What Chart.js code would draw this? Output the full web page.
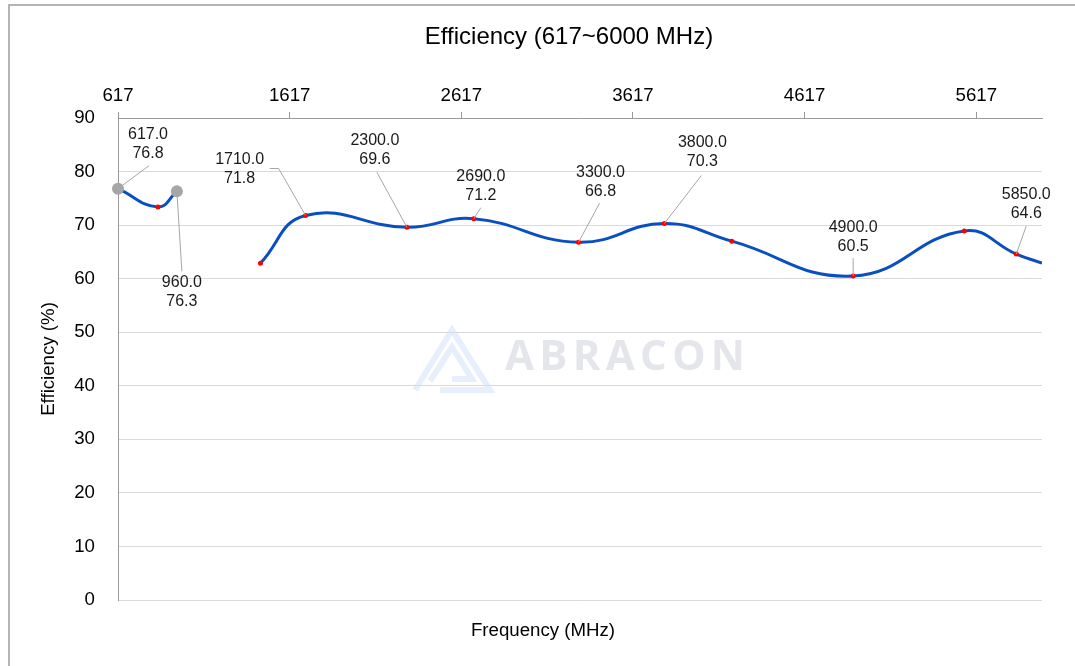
<!DOCTYPE html>
<html>
<head>
<meta charset="utf-8">
<script src="https://cdn.jsdelivr.net/npm/chart.js@4"></script>
<style>
  html, body { margin: 0; padding: 0; background: #fff; overflow: hidden; }
  #frame { position: absolute; left: 8px; top: 4px; width: 1200px; height: 800px; border-left: 2px solid #b4b4b4; border-top: 2px solid #b4b4b4; }
  #wrap { position: absolute; left: 0; top: 0; width: 1075px; height: 666px; }
</style>
</head>
<body>
<div id="frame"></div>
<div id="wrap"><canvas id="eff" width="1075" height="666"></canvas></div>
<script>
// low band (617-960 MHz)
const lowFreq = [617, 850, 960];
const lowEff = [76.8, 73.4, 76.3];
// high band (1.4-6 GHz)
const highFreq = [1447, 1710, 2300, 2690, 3300, 3800, 4193, 4900, 5547, 5850, 6000];
const highEff = [62.9, 71.8, 69.6, 71.2, 66.8, 70.3, 67.0, 60.5, 68.9, 64.6, 62.9];
const xTicks = [617, 1617, 2617, 3617, 4617, 5617];
const yMin = 0, yMax = 90, yStep = 10;
const chartTitle = 'Efficiency (617~6000 MHz)';
const xTitle = 'Frequency (MHz)';
const yTitle = 'Efficiency (%)';

// which points carry a "freq / eff" callout, and where the text sits (px offsets from the point)
const callouts = [
  { ds: 0, i: 0, dx: 30, dy: -45, lx: 31, ly: -23 },
  { ds: 0, i: 2, dx: 5, dy: 101, lx: 5, ly: 80 },
  { ds: 1, i: 1, dx: -66, dy: -46, ex: -27, ey: -47, lx: -36, ly: -47 },
  { ds: 1, i: 2, dx: -32, dy: -77, lx: -30, ly: -55 },
  { ds: 1, i: 3, dx: 7, dy: -33, lx: 7, ly: -11 },
  { ds: 1, i: 4, dx: 22, dy: -60, lx: 21, ly: -39 },
  { ds: 1, i: 5, dx: 38, dy: -71, lx: 37, ly: -48 },
  { ds: 1, i: 7, dx: 0, dy: -39, lx: 0, ly: -18 },
  { ds: 1, i: 9, dx: 10, dy: -50, lx: 10, ly: -28 }
];

const FONT = '"Liberation Sans", Arial, sans-serif';

const watermark = {
  id: 'watermark',
  beforeDatasetsDraw(chart) {
    const { ctx, chartArea: a } = chart;
    const cx = (a.left + a.right) / 2, cy = (a.top + a.bottom) / 2;
    ctx.save();
    // logo
    ctx.strokeStyle = 'rgba(205, 220, 248, 0.45)';
    ctx.lineWidth = 6;
    ctx.beginPath();
    ctx.moveTo(cx - 165, cy + 31);
    ctx.lineTo(cx - 128, cy - 29);
    ctx.lineTo(cx - 90, cy + 31);
    ctx.lineTo(cx - 140, cy + 31);
    ctx.stroke();
    ctx.beginPath();
    ctx.moveTo(cx - 150, cy + 22);
    ctx.lineTo(cx - 128, cy - 12);
    ctx.lineTo(cx - 108, cy + 20);
    ctx.lineTo(cx - 128, cy + 20);
    ctx.stroke();
    // name
    ctx.fillStyle = '#e5e6ec';
    ctx.font = 'bold 42px "Open Sans", ' + FONT;
    ctx.textBaseline = 'middle';
    const word = 'ABRACON';
    const w = ctx.measureText(word).width;
    const gap = (240 - w) / (word.length - 1);
    let x = cx - 75;
    for (const ch of word) {
      ctx.fillText(ch, x, cy - 1);
      x += ctx.measureText(ch).width + gap;
    }
    ctx.restore();
  }
};

const calloutPlugin = {
  id: 'callouts',
  afterDatasetsDraw(chart) {
    const { ctx } = chart;
    const sets = [[lowFreq, lowEff], [highFreq, highEff]];
    ctx.save();
    callouts.forEach((c) => {
      const pt = chart.getDatasetMeta(c.ds).data[c.i];
      const px = pt.x, py = pt.y;
      ctx.strokeStyle = '#a6a6a6';
      ctx.lineWidth = 1;
      ctx.beginPath();
      ctx.moveTo(px, py);
      if (c.ex !== undefined) ctx.lineTo(px + c.ex, py + c.ey);
      ctx.lineTo(px + c.lx, py + c.ly);
      ctx.stroke();
      const [fs, es] = sets[c.ds];
      ctx.fillStyle = '#1a1a1a';
      ctx.font = '16px ' + FONT;
      ctx.textAlign = 'center';
      ctx.textBaseline = 'middle';
      ctx.fillText(fs[c.i].toFixed(1), px + c.dx, py + c.dy - 9.5);
      ctx.fillText(es[c.i].toFixed(1), px + c.dx, py + c.dy + 9.5);
    });
    ctx.restore();
  }
};

const titles = {
  id: 'titles',
  afterDraw(chart) {
    const { ctx } = chart;
    ctx.save();
    ctx.fillStyle = '#000';
    ctx.textAlign = 'center';
    ctx.textBaseline = 'middle';
    ctx.font = '24px ' + FONT;
    ctx.fillText(chartTitle, 569, 37);
    ctx.font = '18.67px ' + FONT;
    ctx.fillText(xTitle, 543, 631);
    ctx.restore();
  }
};

new Chart(document.getElementById('eff'), {
  type: 'line',
  data: {
    datasets: [
      {
        data: lowFreq.map((x, i) => ({ x, y: lowEff[i] })),
        borderColor: '#0a4fc0', borderWidth: 3, tension: 0.45, clip: false,
        pointRadius: (c) => (c.dataIndex === 0 || c.dataIndex === lowFreq.length - 1 ? 6 : 2.5),
        pointBackgroundColor: (c) => (c.dataIndex === 0 || c.dataIndex === lowFreq.length - 1 ? '#a6a6a6' : '#ff0000'),
        pointBorderWidth: 0
      },
      {
        data: highFreq.map((x, i) => ({ x, y: highEff[i] })),
        borderColor: '#0a4fc0', borderWidth: 3, tension: 0.45,
        pointRadius: (c) => (c.dataIndex === highFreq.length - 1 ? 0 : 2.5),
        pointBackgroundColor: '#ff0000',
        pointBorderWidth: 0
      }
    ]
  },
  options: {
    responsive: false,
    animation: false,
    devicePixelRatio: 1,
    layout: { padding: { left: 0, right: 33, top: 68, bottom: 66 } },
    plugins: {
      legend: { display: false },
      tooltip: { enabled: false }
    },
    scales: {
      x: {
        type: 'linear', position: 'top', min: xTicks[0], max: 6000,
        afterBuildTicks: (s) => { s.ticks = xTicks.map((v) => ({ value: v })); },
        afterFit: (s) => { s.height = 50; },
        grid: { drawOnChartArea: false, drawTicks: true, tickLength: 6, color: '#999' },
        border: { color: '#999' },
        ticks: { color: '#000', font: { family: FONT, size: 18.67 }, padding: 5, maxRotation: 0, autoSkip: false, callback: (v) => String(v) }
      },
      y: {
        min: yMin, max: yMax,
        afterFit: (s) => { s.width = 118; },
        ticks: { stepSize: yStep, padding: 23, color: '#000', font: { family: FONT, size: 18.67 }, callback: (v) => String(v) },
        grid: { color: '#d9d9d9', drawTicks: false },
        border: { color: '#999' },
        title: { display: true, text: yTitle, color: '#000', font: { family: FONT, size: 18.67 }, padding: { top: 37.8, bottom: 0 } }
      }
    }
  },
  plugins: [watermark, calloutPlugin, titles]
});
</script>
</body>
</html>
